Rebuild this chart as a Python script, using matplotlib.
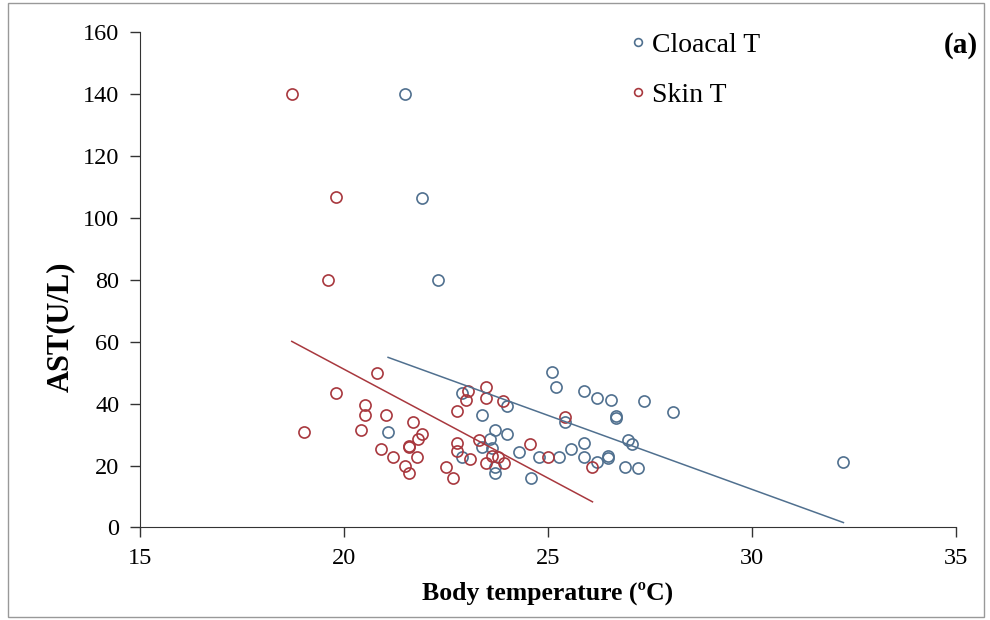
import numpy as np
import matplotlib
matplotlib.use("Agg")
import matplotlib.pyplot as plt
from matplotlib.patches import Rectangle

plt.rcParams['font.family'] = ['Liberation Serif', 'DejaVu Serif']

# Cloacal temperature vs AST
cloacal_T = [21.50, 21.90, 22.30, 25.09, 25.19, 25.87, 22.90, 26.20, 26.55, 27.36,
             24.00, 28.06, 23.39, 26.66, 26.66, 25.42, 23.70, 21.08, 24.00, 23.59,
             26.97, 27.07, 25.88, 23.37, 23.62, 25.56, 24.30, 22.88, 24.79, 25.27,
             26.48, 26.48, 25.88, 26.20, 32.24, 23.70, 26.89, 27.20, 23.70, 24.58]
cloacal_AST = [140.0, 106.5, 80.0, 50.1, 45.3, 44.1, 43.5, 41.7, 41.2, 40.9,
               39.3, 37.4, 36.2, 36.0, 35.3, 34.2, 31.5, 30.9, 30.2, 28.5,
               28.3, 26.9, 27.4, 26.1, 25.6, 25.3, 24.5, 22.9, 22.9, 22.9,
               23.1, 22.3, 22.7, 21.2, 21.1, 19.6, 19.6, 19.3, 17.5, 15.9]

# Skin temperature vs AST
skin_T = [18.72, 19.80, 19.62, 20.80, 23.48, 23.05, 19.80, 23.48, 23.00, 23.90,
          20.51, 22.78, 20.51, 21.03, 25.42, 21.70, 19.02, 20.41, 21.90, 21.82,
          23.31, 22.78, 24.56, 21.60, 21.60, 20.91, 22.78, 21.21, 21.80, 23.62,
          23.78, 25.01, 23.09, 23.48, 23.92, 21.50, 22.50, 26.09, 21.60, 22.68]
skin_AST = [140.0, 106.8, 80.0, 50.0, 45.5, 44.0, 43.3, 41.7, 41.2, 40.9,
            39.5, 37.5, 36.3, 36.2, 35.6, 34.2, 30.9, 31.4, 30.2, 28.5,
            28.3, 27.2, 27.0, 26.3, 25.9, 25.3, 24.6, 22.9, 22.9, 23.1,
            22.7, 22.9, 22.0, 20.7, 20.7, 19.9, 19.6, 19.4, 17.7, 15.9]

# Trend lines (slope, intercept)
cloacal_fit = [-4.78, 155.7]
skin_fit = [-7.03, 191.7]

x_ticks = [15, 20, 25, 30, 35]
y_ticks = [0, 20, 40, 60, 80, 100, 120, 140, 160]

blue = "#50708F"
red = "#A8383E"

fig = plt.figure(figsize=(9.9, 6.2), dpi=100)
ax = fig.add_axes([0.1414, 0.1492, 0.8243, 0.7992])

# Scatter points
ax.plot(cloacal_T, cloacal_AST, ls="none", marker="o", markersize=8,
        markerfacecolor="none", markeredgecolor=blue, markeredgewidth=1.2,
        label="Cloacal T")
ax.plot(skin_T, skin_AST, ls="none", marker="o", markersize=8,
        markerfacecolor="none", markeredgecolor=red, markeredgewidth=1.2,
        label="Skin T")

# Linear trend lines over each data range
xc = np.array([min(cloacal_T), max(cloacal_T)])
ax.plot(xc, cloacal_fit[0] * xc + cloacal_fit[1], color=blue, lw=1.1)
xs = np.array([min(skin_T), max(skin_T)])
ax.plot(xs, skin_fit[0] * xs + skin_fit[1], color=red, lw=1.1)

ax.set_xlim(15, 35)
ax.set_ylim(0, 160)
ax.set_xticks(x_ticks)
ax.set_yticks(y_ticks)
ax.spines["top"].set_visible(False)
ax.spines["right"].set_visible(False)
ax.spines["left"].set_color("#333333")
ax.spines["bottom"].set_color("#333333")
ax.tick_params(direction="out", length=7, width=1, colors="#333333",
               labelsize=17.5, labelcolor="black")
ax.tick_params(axis="x", pad=8)
ax.tick_params(axis="y", pad=8)

ax.set_xlabel("Body temperature (\u00baC)", fontsize=18.5, fontweight="bold", labelpad=9)
ax.set_ylabel("AST(U/L)", fontsize=22, fontweight="bold")
ax.yaxis.set_label_coords(-0.08, 0.405)

ax.legend(loc="upper left", bbox_to_anchor=(0.569, 1.05), frameon=False,
          fontsize=20, markerscale=0.7, handlelength=0.6, handletextpad=0.2,
          labelspacing=0.88)

fig.text(0.988, 0.927, "(a)", ha="right", va="center",
         fontsize=21, fontweight="bold")

# thin frame around the whole picture
fig.patches.append(Rectangle((0.008, 0.005), 0.986, 0.99, transform=fig.transFigure,
                             fill=False, edgecolor="#999999", lw=1))

fig.savefig("out.png", dpi=100)
